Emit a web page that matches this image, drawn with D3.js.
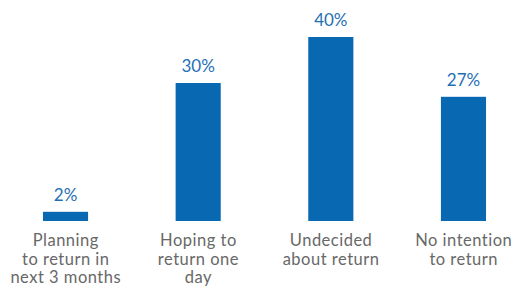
<!DOCTYPE html>
<html><head><meta charset="utf-8">
<script src="https://cdn.jsdelivr.net/npm/d3@7/dist/d3.min.js"></script>
<style>html,body{margin:0;padding:0;background:#fff;}svg{display:block;}</style>
</head><body>
<svg id="c" width="513" height="288"></svg>
<script>
const categories = ["Planning to return in next 3 months","Hoping to return one day","Undecided about return","No intention to return"];
const labelLines = [["Planning","to return in","next 3 months"],["Hoping to","return one","day"],["Undecided","about return"],["No intention","to return"]];
const values = [2, 30, 40, 27];
const valueLabels = ["2%","30%","40%","27%"];

const svg = d3.select("#c");
const baseY = 221, topY = 37;
const x = d3.scaleBand().domain(categories).range([-0.8, 529.8]).paddingInner(0.66).paddingOuter(0.33);
const y = d3.scaleLinear().domain([0, 40]).range([baseY, topY]);
const font = "Lato, 'Open Sans', sans-serif";

svg.selectAll("rect.bar").data(values).join("rect")
  .attr("class","bar")
  .attr("x",(d,i)=>x(categories[i]))
  .attr("width",x.bandwidth())
  .attr("y",d=>y(d))
  .attr("height",d=>baseY-y(d))
  .attr("fill","#0868b2");

svg.selectAll("text.val").data(values).join("text")
  .attr("class","val")
  .attr("x",(d,i)=>x(categories[i])+x.bandwidth()/2)
  .attr("y",d=>y(d)-11)
  .attr("text-anchor","middle")
  .attr("font-family",font).attr("font-size",17)
  .attr("fill","#1f6fb5")
  .text((d,i)=>valueLabels[i]);

const g = svg.selectAll("text.cat").data(categories).join("text")
  .attr("class","cat")
  .attr("text-anchor","middle")
  .attr("font-family",font).attr("font-size",16.5)
  .attr("letter-spacing","0.5px")
  .attr("fill","#686868");
g.each(function(d,i){
  const cx = x(d)+x.bandwidth()/2 + 0.25;
  d3.select(this).selectAll("tspan").data(labelLines[i]).join("tspan")
    .attr("x",cx).attr("y",(l,j)=>246+j*18.5).text(l=>l);
});
</script>
</body></html>
